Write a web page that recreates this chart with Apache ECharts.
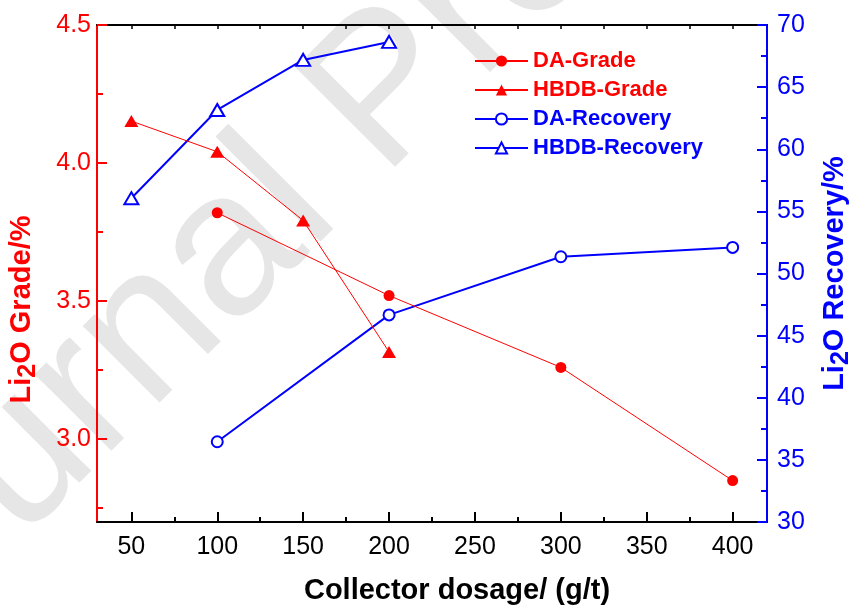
<!DOCTYPE html>
<html>
<head>
<meta charset="utf-8">
<script src="https://cdn.jsdelivr.net/npm/echarts@6/dist/echarts.min.js"></script>
<style>html,body{margin:0;padding:0;background:#fff}#c{width:850px;height:608px}</style>
</head>
<body>
<div id="c"></div>
<script>
// ---- data ----
const xDA = [100, 200, 300, 400];
const xHBDB = [50, 100, 150, 200];
const daGrade = [3.82, 3.52, 3.26, 2.85];
const hbdbGrade = [4.152, 4.041, 3.792, 3.316];
const daRecovery = [36.46, 46.67, 51.35, 52.1];
const hbdbRecovery = [56.06, 63.16, 67.19, 68.64];
const xTickValues = [50, 100, 150, 200, 250, 300, 350, 400];
const xMinorValues = [75, 125, 175, 225, 275, 325, 375];
const xTopValues = [50, 75, 100, 125, 150, 175, 200, 225, 250, 275, 300, 325, 350, 375, 400];
const gradeTickValues = [3.0, 3.5, 4.0, 4.5];
const gradeMinorValues = [2.75, 3.25, 3.75, 4.25];
const seriesNames = ['DA-Grade', 'HBDB-Grade', 'DA-Recovery', 'HBDB-Recovery'];

const RED = '#ff0000', BLUE = '#0000ff', FONT = "'Liberation Sans', Arial, sans-serif";
const zip = (xs, ys) => xs.map((x, i) => [x, ys[i]]);

const chart = echarts.init(document.getElementById('c'), null, {renderer: 'canvas'});
chart.setOption({
  animation: false,
  textStyle: {fontFamily: FONT},
  graphic: [{
    type: 'text', x: -100, y: 727, rotation: Math.PI / 4, z: -10, silent: true,
    style: {text: 'Journal Pre-proof', fontSize: 205, fontFamily: FONT, fill: '#e6e6e6', align: 'left', verticalAlign: 'bottom'}
  }],
  grid: {left: 97, top: 25, width: 670, height: 497, containLabel: false, outerBoundsMode: 'none'},
  legend: {
    orient: 'vertical', left: 469, top: 45, itemWidth: 53, itemHeight: 14, itemGap: 7,
    textStyle: {fontSize: 22, fontWeight: 'bold', fontFamily: FONT},
    data: [
      {name: seriesNames[0], textStyle: {color: RED}},
      {name: seriesNames[1], textStyle: {color: RED}},
      {name: seriesNames[2], textStyle: {color: BLUE}},
      {name: seriesNames[3], textStyle: {color: BLUE}}
    ]
  },
  xAxis: [{
    type: 'value', min: 30, max: 420, position: 'bottom',
    name: 'Collector dosage/ (g/t)', nameLocation: 'middle', nameGap: 54,
    nameTextStyle: {fontSize: 29, fontWeight: 'bold', color: '#000', fontFamily: FONT, padding: [0, 0, 0, 50]},
    axisLine: {lineStyle: {color: '#000', width: 2}},
    axisTick: {inside: true, length: 10, customValues: xTickValues, lineStyle: {color: '#000', width: 2}},
    axisLabel: {customValues: xTickValues, fontSize: 25, color: '#000', margin: 13, fontFamily: FONT},
    splitLine: {show: false}
  }, {
    type: 'value', min: 30, max: 420, position: 'bottom',
    axisLine: {show: false},
    axisTick: {inside: true, length: 5, customValues: xMinorValues, lineStyle: {color: '#000', width: 2}},
    axisLabel: {show: false}, splitLine: {show: false}
  }, {
    type: 'value', min: 30, max: 420, position: 'top',
    axisLine: {lineStyle: {color: '#000', width: 2}},
    axisTick: {inside: true, length: 4, customValues: xTopValues, lineStyle: {color: '#000', width: 1.5}},
    axisLabel: {show: false}, splitLine: {show: false}
  }],
  yAxis: [{
    type: 'value', min: 2.7, max: 4.5, position: 'left',
    name: '{a|Li}{s|2}{a|O Grade/%}', nameLocation: 'middle', nameGap: 56, nameRotate: 90,
    nameTextStyle: {color: RED, fontWeight: 'bold', fontSize: 29, fontFamily: FONT, padding: [0, 72, 0, 0],
      rich: {a: {color: RED, fontWeight: 'bold', fontSize: 29, fontFamily: FONT, verticalAlign: 'top'},
             s: {color: RED, fontWeight: 'bold', fontSize: 25, fontFamily: FONT, verticalAlign: 'top', padding: [9, 0, 0, 0]}}},
    axisLine: {show: true, lineStyle: {color: RED, width: 2}},
    axisTick: {show: true, inside: true, length: 10, customValues: gradeTickValues, lineStyle: {color: RED, width: 2}},
    axisLabel: {customValues: gradeTickValues, formatter: v => v.toFixed(1), fontSize: 25, color: RED, margin: 6, fontFamily: FONT},
    splitLine: {show: false}
  }, {
    type: 'value', min: 30, max: 70, interval: 5, position: 'right',
    name: '{a|Li}{s|2}{a|O Recovery/%}', nameLocation: 'middle', nameGap: 53, nameRotate: 90,
    nameTextStyle: {color: BLUE, fontWeight: 'bold', fontSize: 29, fontFamily: FONT,
      rich: {a: {color: BLUE, fontWeight: 'bold', fontSize: 29, fontFamily: FONT, verticalAlign: 'top'},
             s: {color: BLUE, fontWeight: 'bold', fontSize: 25, fontFamily: FONT, verticalAlign: 'top', padding: [9, 0, 0, 0]}}},
    axisLine: {show: true, lineStyle: {color: BLUE, width: 2}},
    axisTick: {show: true, inside: true, length: 10, lineStyle: {color: BLUE, width: 2}},
    minorTick: {show: true, splitNumber: 2, length: 6, lineStyle: {color: BLUE, width: 2}},
    axisLabel: {fontSize: 25, color: BLUE, margin: 10, fontFamily: FONT},
    splitLine: {show: false}, minorSplitLine: {show: false}
  }, {
    type: 'value', min: 2.7, max: 4.5, position: 'left',
    axisLine: {show: false},
    axisTick: {show: true, inside: true, length: 6, customValues: gradeMinorValues, lineStyle: {color: RED, width: 2}},
    axisLabel: {show: false}, splitLine: {show: false}
  }],
  series: [{
    name: seriesNames[0], type: 'line', xAxisIndex: 0, yAxisIndex: 0, data: zip(xDA, daGrade),
    symbol: 'circle', symbolSize: 11, color: RED, itemStyle: {color: RED},
    lineStyle: {color: RED, width: 1}, z: 5
  }, {
    name: seriesNames[1], type: 'line', xAxisIndex: 0, yAxisIndex: 0, data: zip(xHBDB, hbdbGrade),
    symbol: 'triangle', symbolSize: [14, 12], color: RED, itemStyle: {color: RED},
    lineStyle: {color: RED, width: 1}, z: 5
  }, {
    name: seriesNames[2], type: 'line', xAxisIndex: 0, yAxisIndex: 1, data: zip(xDA, daRecovery),
    symbol: 'emptyCircle', symbolSize: 11, color: BLUE, itemStyle: {color: BLUE, borderColor: BLUE, borderWidth: 1.2},
    lineStyle: {color: BLUE, width: 2}, z: 4
  }, {
    name: seriesNames[3], type: 'line', xAxisIndex: 0, yAxisIndex: 1, data: zip(xHBDB, hbdbRecovery),
    symbol: 'emptyTriangle', symbolSize: [14, 12], color: BLUE, itemStyle: {color: BLUE, borderColor: BLUE, borderWidth: 1.2},
    lineStyle: {color: BLUE, width: 2}, z: 4
  }]
});
</script>
</body>
</html>
